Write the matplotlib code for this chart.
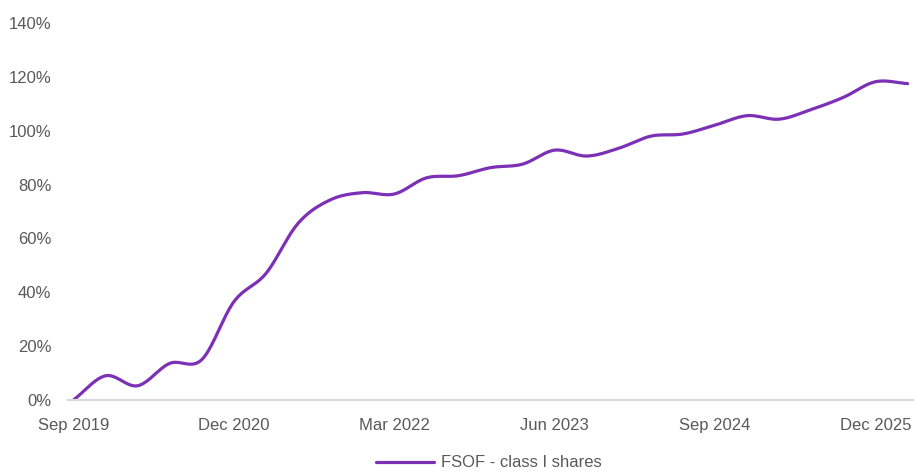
import numpy as np
import matplotlib
matplotlib.use('Agg')
import matplotlib.pyplot as plt
from matplotlib.ticker import PercentFormatter

plt.rcParams['font.family'] = ['Liberation Sans', 'DejaVu Sans']

# quarterly returns, Sep 2019 .. Mar 2026
quarters = ["Sep 2019", "Dec 2019", "Mar 2020", "Jun 2020", "Sep 2020", "Dec 2020",
            "Mar 2021", "Jun 2021", "Sep 2021", "Dec 2021", "Mar 2022", "Jun 2022",
            "Sep 2022", "Dec 2022", "Mar 2023", "Jun 2023", "Sep 2023", "Dec 2023",
            "Mar 2024", "Jun 2024", "Sep 2024", "Dec 2024", "Mar 2025", "Jun 2025",
            "Sep 2025", "Dec 2025", "Mar 2026"]
fsof = [0.0, 9.0, 5.3, 13.6, 15.0, 36.5, 47.0, 65.6, 74.3, 77.0, 76.5, 82.5,
        83.3, 86.3, 87.6, 92.8, 90.6, 93.5, 98.0, 98.8, 102.1, 105.6, 104.3,
        107.9, 112.4, 118.2, 117.5]
tick_every = 5


def smooth(y, n=20):
    # catmull-rom style smoothing, like excel's "smoothed line"
    y = np.asarray(y, dtype=float)
    p = np.concatenate([[2 * y[0] - y[1]], y, [2 * y[-1] - y[-2]]])
    xs, ys = [], []
    t = np.linspace(0, 1, n, endpoint=False)
    for i in range(len(y) - 1):
        p0, p1, p2, p3 = p[i], p[i + 1], p[i + 2], p[i + 3]
        m1 = (p2 - p0) / 2
        m2 = (p3 - p1) / 2
        h00 = 2 * t**3 - 3 * t**2 + 1
        h10 = t**3 - 2 * t**2 + t
        h01 = -2 * t**3 + 3 * t**2
        h11 = t**3 - t**2
        xs.append(i + t)
        ys.append(h00 * p1 + h10 * m1 + h01 * p2 + h11 * m2)
    xs.append([len(y) - 1])
    ys.append([y[-1]])
    return np.concatenate(xs), np.concatenate(ys)


fig = plt.figure(figsize=(9.14, 4.71), dpi=100)
ax = fig.add_axes([0.0744, 0.1507, 0.9256, 0.8004])

sx, sy = smooth(fsof)
ax.plot(sx, sy, color="#7B30B5", linewidth=2.3, label="FSOF - class I shares",
        solid_capstyle="round")

ax.set_xlim(-0.17, 26.2)
ax.set_ylim(0, 140)
ax.set_yticks(np.arange(0, 141, 20))
ax.yaxis.set_major_formatter(PercentFormatter(decimals=0))
idx = list(range(0, len(quarters), tick_every))
ax.set_xticks(idx)
ax.set_xticklabels([quarters[i] for i in idx])

for s in ["top", "right", "left"]:
    ax.spines[s].set_visible(False)
ax.spines["bottom"].set_color("#d9d9d9")
ax.spines["bottom"].set_linewidth(1.5)
ax.tick_params(axis="both", length=0, labelsize=12, labelcolor="#595959")
ax.tick_params(axis="y", pad=12)
ax.tick_params(axis="x", pad=13)

fig.legend(loc="center", bbox_to_anchor=(0.535, 0.017), frameon=False,
           fontsize=12, labelcolor="#595959", handlelength=3.5, handletextpad=0.4,
           borderpad=0, borderaxespad=0)

plt.savefig("out.png", dpi=100)
